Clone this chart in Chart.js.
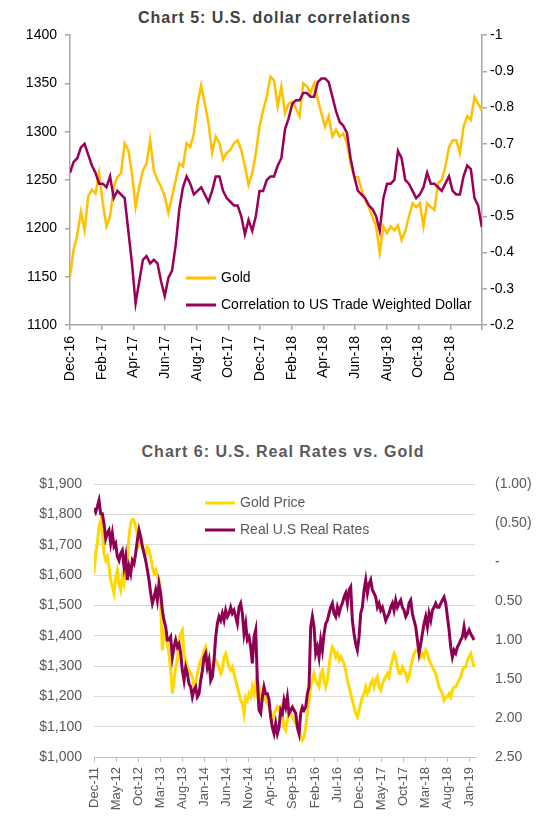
<!DOCTYPE html>
<html>
<head>
<meta charset="utf-8">
<script src="https://cdn.jsdelivr.net/npm/chart.js@4.4.1/dist/chart.umd.min.js"></script>
<style>
  body { margin: 0; background: #fff; width: 554px; height: 826px; position: relative; overflow: hidden;
         font-family: "Liberation Sans", Arial, sans-serif; }
  .title { position: absolute; text-align: center; font-weight: bold; font-size: 16px; line-height: 20px;
           letter-spacing: 1px; white-space: nowrap; }
  #title5 { left: 0; top: 8px; width: 549px; color: #404040; }
  #title6 { left: 12px; top: 442px; width: 542px; color: #595959; }
  #c5 { position: absolute; left: 0; top: 0; }
  #c6 { position: absolute; left: 12px; top: 420px; }
</style>
</head>
<body>
<div class="title" id="title5">Chart 5: U.S. dollar correlations</div>
<div class="title" id="title6">Chart 6: U.S. Real Rates vs. Gold</div>
<canvas id="c5" width="554" height="400"></canvas>
<canvas id="c6" width="542" height="406"></canvas>
<script>
// ---- Chart 5 data: weekly samples starting Dec-16 ----
const sampleDays5 = 7;
const months5 = ['Dec-16', 'Feb-17', 'Apr-17', 'Jun-17', 'Aug-17', 'Oct-17', 'Dec-17',
    'Feb-18', 'Apr-18', 'Jun-18', 'Aug-18', 'Oct-18', 'Dec-18', ''];
const gold5 = [
    1150, 1178, 1193, 1217, 1198, 1233, 1240, 1236, 1257, 1226,
    1202, 1212, 1243, 1253, 1257, 1288, 1281, 1257, 1222, 1243,
    1260, 1267, 1291, 1260, 1250, 1243, 1233, 1216, 1233, 1250,
    1267, 1264, 1288, 1284, 1298, 1329, 1348, 1329, 1309, 1278,
    1295, 1288, 1271, 1278, 1281, 1288, 1291, 1281, 1264, 1245,
    1257, 1278, 1305, 1322, 1336, 1357, 1353, 1326, 1347, 1319,
    1329, 1331, 1324, 1316, 1350, 1347, 1340, 1350, 1333, 1319,
    1305, 1316, 1295, 1302, 1295, 1298, 1288, 1267, 1253, 1253,
    1240, 1229, 1222, 1212, 1202, 1175, 1202, 1195, 1202, 1198,
    1203, 1188, 1197, 1212, 1226, 1222, 1226, 1202, 1226, 1222,
    1219, 1247, 1250, 1264, 1284, 1291, 1291, 1278, 1305, 1316,
    1312, 1336, 1329, 1322
];
const corr5 = [
    -0.62, -0.65, -0.66, -0.69, -0.70, -0.67, -0.64, -0.62, -0.59, -0.59,
    -0.58, -0.61, -0.55, -0.57, -0.56, -0.55, -0.46, -0.37, -0.26, -0.32,
    -0.38, -0.39, -0.37, -0.38, -0.37, -0.32, -0.28, -0.33, -0.35, -0.42,
    -0.52, -0.58, -0.61, -0.59, -0.56, -0.57, -0.58, -0.56, -0.54, -0.57,
    -0.61, -0.61, -0.57, -0.55, -0.54, -0.53, -0.53, -0.50, -0.45, -0.49,
    -0.46, -0.50, -0.57, -0.57, -0.60, -0.61, -0.61, -0.64, -0.66, -0.74,
    -0.77, -0.81, -0.82, -0.82, -0.84, -0.84, -0.83, -0.83, -0.87, -0.88,
    -0.88, -0.87, -0.83, -0.79, -0.76, -0.75, -0.73, -0.66, -0.61, -0.57,
    -0.56, -0.55, -0.53, -0.52, -0.50, -0.46, -0.55, -0.59, -0.59, -0.60,
    -0.68, -0.66, -0.60, -0.59, -0.57, -0.55, -0.56, -0.58, -0.62, -0.59,
    -0.59, -0.58, -0.57, -0.59, -0.61, -0.57, -0.56, -0.56, -0.61, -0.64,
    -0.63, -0.55, -0.53, -0.47
];

// ---- Chart 6 data: samples every ~11.5 days starting Dec-11 ----
const sampleDays6 = 11.48;
const months6 = ['Dec-11', 'May-12', 'Oct-12', 'Mar-13', 'Aug-13', 'Jan-14', 'Jun-14', 'Nov-14',
    'Apr-15', 'Sep-15', 'Feb-16', 'Jul-16', 'Dec-16', 'May-17', 'Oct-17', 'Mar-18', 'Aug-18', 'Jan-19'];
const gold6 = [
    1605, 1671, 1704, 1759, 1781, 1737, 1671, 1649, 1660, 1627,
    1583, 1561, 1539, 1594, 1616, 1572, 1550, 1594, 1572, 1616,
    1649, 1726, 1770, 1783, 1781, 1759, 1737, 1704, 1726, 1693,
    1682, 1671, 1693, 1682, 1660, 1627, 1605, 1616, 1594, 1583,
    1495, 1352, 1407, 1396, 1374, 1341, 1286, 1209, 1253, 1297,
    1319, 1385, 1407, 1418, 1341, 1319, 1297, 1286, 1275, 1264,
    1231, 1242, 1275, 1297, 1319, 1330, 1352, 1363, 1330, 1297,
    1275, 1297, 1319, 1319, 1308, 1297, 1275, 1286, 1330, 1341,
    1319, 1297, 1286, 1297, 1275, 1253, 1231, 1209, 1187, 1176,
    1143, 1198, 1187, 1209, 1198, 1231, 1209, 1242, 1209, 1231,
    1198, 1187, 1209, 1187, 1176, 1165, 1143, 1121, 1143, 1154,
    1165, 1154, 1165, 1132, 1099, 1088, 1121,
    1154, 1143, 1132, 1121, 1110, 1105, 1099, 1066, 1055, 1066,
    1099, 1143, 1187, 1231, 1253, 1275, 1253, 1242, 1231, 1275,
    1286, 1253, 1231, 1253, 1297, 1341, 1363, 1352, 1330, 1341,
    1319, 1330, 1319, 1308, 1286, 1253, 1231, 1209, 1187, 1165,
    1143, 1132, 1154, 1176, 1198, 1209, 1231, 1209, 1220, 1242,
    1253, 1231, 1253, 1264, 1231, 1220, 1242, 1253, 1264, 1275,
    1264, 1297, 1319, 1341, 1330, 1297, 1275, 1275, 1297, 1286,
    1275, 1253, 1264, 1297, 1319, 1341, 1352, 1352, 1341, 1330,
    1341, 1330, 1352, 1341, 1319, 1308, 1297, 1286, 1275, 1253,
    1231, 1220, 1209, 1187, 1198, 1198, 1209, 1198, 1220, 1231,
    1231, 1242, 1253, 1264, 1286, 1297, 1297, 1319, 1330, 1341,
    1319, 1297
];
const realRates6 = [
    -0.69, -0.64, -0.71, -0.79, -0.62, -0.62, -0.49, -0.30, -0.37, -0.41,
    -0.24, -0.37, -0.20, -0.24, -0.07, -0.02, -0.11, -0.15, 0.06, -0.07,
    0.23, 0.06, 0.15, -0.02, 0.02, -0.11, -0.28, -0.41, -0.32, -0.20,
    -0.11, -0.02, 0.10, 0.23, 0.40, 0.53, 0.45, 0.36, 0.49, 0.28,
    0.40, 0.62, 0.75, 0.83, 1.00, 1.00, 0.96, 1.22, 1.09, 1.00,
    1.09, 1.05, 1.17, 1.39, 1.52, 1.35, 1.43, 1.56, 1.60, 1.73,
    1.64, 1.60, 1.73, 1.69, 1.52, 1.39, 1.22, 1.17, 1.35, 1.26,
    1.52, 1.47, 1.26, 0.96, 0.79, 0.70, 0.75, 0.66, 0.75, 0.62,
    0.70, 0.66, 0.58, 0.66, 0.62, 0.70, 0.79, 0.58, 0.53, 0.66,
    0.92, 0.79, 1.00, 0.96, 1.09, 1.30, 0.96, 0.87, 1.52, 1.90,
    1.94, 1.73, 1.60, 1.69, 1.69, 1.77, 1.99, 2.12, 2.20, 2.07,
    2.20, 2.12, 1.90, 1.94, 1.77, 1.86, 1.73,
    1.94, 1.90, 1.86, 1.90, 1.94, 2.12, 2.20, 1.94, 1.86, 1.90,
    1.86, 1.69, 1.60, 0.83, 0.70, 0.83, 1.17, 1.09, 1.22, 1.00,
    1.13, 0.92, 0.79, 0.75, 0.66, 0.58, 0.53, 0.66, 0.70, 0.58,
    0.66, 0.58, 0.53, 0.45, 0.40, 0.53, 0.36, 0.32, 0.75, 0.92,
    1.05, 1.13, 0.96, 0.66, 0.58, 0.36, 0.23, 0.40, 0.28, 0.23,
    0.36, 0.40, 0.45, 0.58, 0.53, 0.62, 0.58, 0.66, 0.75, 0.70,
    0.66, 0.58, 0.53, 0.62, 0.49, 0.58, 0.53, 0.49, 0.58, 0.62,
    0.70, 0.66, 0.53, 0.49, 0.66, 0.75, 0.83, 1.00, 1.17, 1.05,
    0.92, 0.79, 0.70, 0.83, 0.66, 0.75, 0.62, 0.58, 0.53, 0.58,
    0.58, 0.53, 0.49, 0.45, 0.53, 0.70, 0.87, 1.09, 1.22, 1.13,
    1.17, 1.09, 1.05, 1.00, 0.96, 0.83, 0.96, 0.92, 0.87, 0.92,
    0.96, 1.00
];

const DAYS_PER_MONTH = 30.44;
// turn a series into {x: months since first tick, y}
function toPoints(values, sampleDays) {
    return values.map((v, i) => ({ x: i * sampleDays / DAYS_PER_MONTH, y: v }));
}

Chart.defaults.font.family = '"Liberation Sans", Arial, sans-serif';

// Legend drawn inside the plot area (line sample + label per dataset)
const insideLegend = {
    id: 'insideLegend',
    afterDatasetsDraw(chart, args, opts) {
        const ctx = chart.ctx;
        ctx.save();
        ctx.font = '14px "Liberation Sans", Arial, sans-serif';
        ctx.textBaseline = 'middle';
        chart.data.datasets.forEach((ds, i) => {
            const y = opts.y + i * opts.gap;
            ctx.strokeStyle = ds.borderColor;
            ctx.lineWidth = 3;
            ctx.beginPath();
            ctx.moveTo(opts.x, y);
            ctx.lineTo(opts.x + 30, y);
            ctx.stroke();
            ctx.fillStyle = opts.color;
            ctx.fillText(ds.label, opts.x + 35, y);
        });
        ctx.restore();
    }
};

// Chart 5: gold vs correlation to trade weighted dollar
const AXIS5 = '#a6a6a6';
new Chart(document.getElementById('c5'), {
    type: 'line',
    data: {
        datasets: [
            { label: 'Gold', data: toPoints(gold5, sampleDays5), borderColor: '#FFC000',
              borderWidth: 2.5, yAxisID: 'y', order: 2 },
            { label: 'Correlation to US Trade Weighted Dollar', data: toPoints(corr5, sampleDays5),
              borderColor: '#990057', borderWidth: 2.5, yAxisID: 'y2', order: 1 }
        ]
    },
    options: {
        responsive: false,
        animation: false,
        layout: { padding: { top: 35 } },
        elements: { point: { radius: 0 }, line: { tension: 0 } },
        plugins: {
            legend: { display: false },
            tooltip: { enabled: false },
            insideLegend: { x: 186, y: 278, gap: 27, color: '#000' }
        },
        scales: {
            x: {
                type: 'linear', min: 0, max: 26,
                afterFit: s => { s.height = 75; },
                ticks: { stepSize: 2, autoSkip: false, minRotation: 90, maxRotation: 90, padding: 6,
                         color: '#000', font: { size: 14 },
                         callback: v => months5[Math.round(v / 2)] ?? '' },
                grid: { drawOnChartArea: false, tickLength: 5, color: AXIS5, lineWidth: 1.5 },
                border: { color: AXIS5, width: 1.5 }
            },
            y: {
                position: 'left', min: 1100, max: 1400,
                afterFit: s => { s.width = 70; },
                ticks: { stepSize: 50, padding: 8, color: '#000', font: { size: 14 },
                         callback: v => String(v) },
                grid: { drawOnChartArea: false, tickLength: 5, color: AXIS5, lineWidth: 1.5 },
                border: { color: AXIS5, width: 1.5 }
            },
            y2: {
                position: 'right', min: -1, max: -0.2, reverse: true,
                afterFit: s => { s.width = 72; },
                ticks: { stepSize: 0.1, padding: 3, color: '#000', font: { size: 14 },
                         callback: v => String(Math.round(v * 10) / 10) },
                grid: { drawOnChartArea: false, tickLength: 5, color: AXIS5, lineWidth: 1.5 },
                border: { color: AXIS5, width: 1.5 }
            }
        }
    },
    plugins: [insideLegend]
});

// Chart 6: real rates (inverted) vs gold price
const GRID6 = '#d9d9d9';
const TEXT6 = '#595959';
new Chart(document.getElementById('c6'), {
    type: 'line',
    data: {
        datasets: [
            { label: 'Gold Price', data: toPoints(gold6, sampleDays6), borderColor: '#FFD800',
              borderWidth: 3, yAxisID: 'y', order: 2 },
            { label: 'Real U.S Real Rates', data: toPoints(realRates6, sampleDays6),
              borderColor: '#8E0052', borderWidth: 3, yAxisID: 'y2', order: 1 }
        ]
    },
    options: {
        responsive: false,
        animation: false,
        layout: { padding: { top: 64 } },
        elements: { point: { radius: 0 }, line: { tension: 0 } },
        plugins: {
            legend: { display: false },
            tooltip: { enabled: false },
            insideLegend: { x: 193, y: 83, gap: 27, color: TEXT6 }
        },
        scales: {
            x: {
                type: 'linear', min: 0, max: 86.2,
                afterFit: s => { s.height = 69; },
                ticks: { stepSize: 5, includeBounds: false, autoSkip: false, minRotation: 90, maxRotation: 90,
                         padding: 5, color: TEXT6, font: { size: 13 },
                         callback: v => months6[Math.round(v / 5)] ?? '' },
                grid: { drawOnChartArea: false, tickLength: 5, color: '#bfbfbf' },
                border: { color: '#bfbfbf', width: 1 }
            },
            y: {
                position: 'left', min: 1000, max: 1900,
                afterFit: s => { s.width = 82; },
                ticks: { stepSize: 100, padding: 12, color: TEXT6, font: { size: 14 },
                         callback: v => '$' + v.toLocaleString('en-US') },
                grid: { color: GRID6, lineWidth: 1, drawTicks: false },
                border: { display: false }
            },
            y2: {
                position: 'right', min: -1, max: 2.5, reverse: true,
                afterFit: s => { s.width = 79; },
                ticks: { stepSize: 0.5, padding: 20, color: TEXT6, font: { size: 14 },
                         callback: v => Math.abs(v) < 1e-9 ? '-'
                             : (v < 0 ? '(' + Math.abs(v).toFixed(2) + ')' : v.toFixed(2)) },
                grid: { drawOnChartArea: false, drawTicks: false },
                border: { display: false }
            }
        }
    },
    plugins: [insideLegend]
});
</script>
</body>
</html>
